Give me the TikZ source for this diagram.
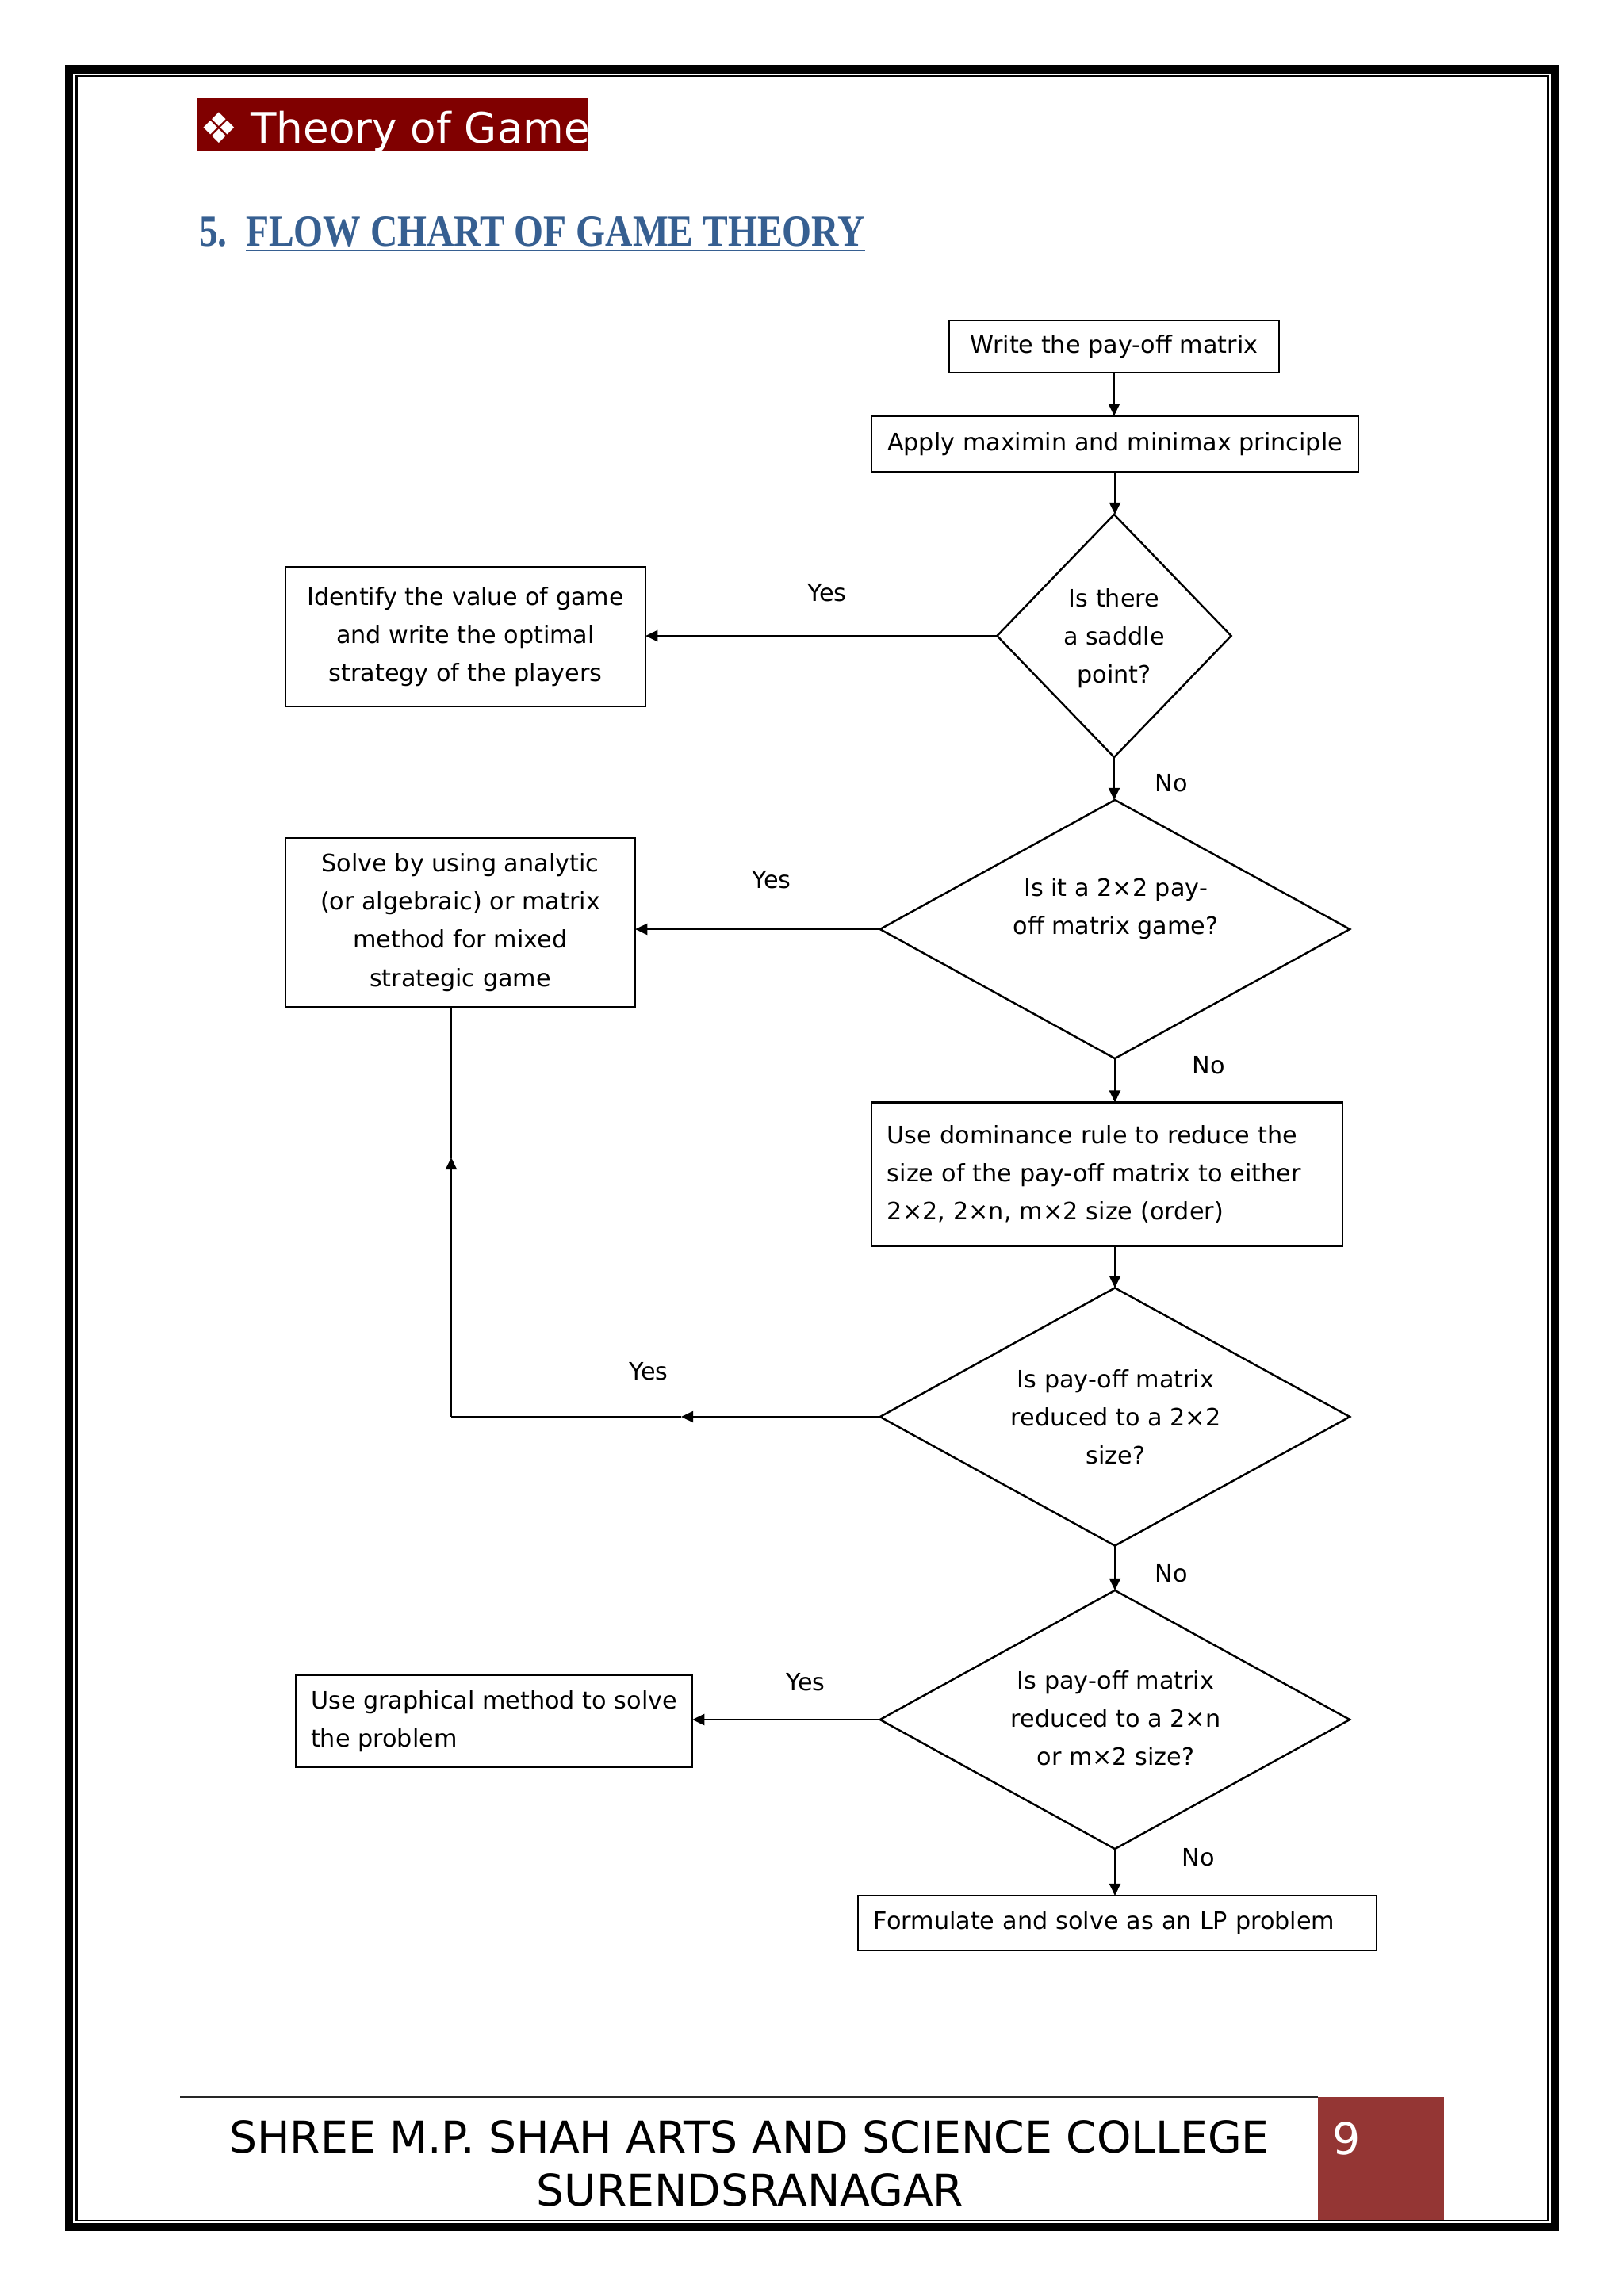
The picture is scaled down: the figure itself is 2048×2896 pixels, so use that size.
\documentclass[tikz,border=0pt]{standalone}
\usepackage{fontspec}
\setmainfont{DejaVu Sans}
\newfontfamily\titlefont[FakeStretch=0.85]{Liberation Serif}
\usetikzlibrary{shapes.geometric,arrows.meta}
\definecolor{hdrred}{HTML}{800000}
\definecolor{titleblue}{HTML}{365F91}
\definecolor{footred}{HTML}{943634}
\newcommand{\flowfont}{\fontsize{8.6pt}{13.7pt}\selectfont}
\newcommand{\footerfont}{\fontsize{15.7pt}{19pt}\selectfont}
\newcommand{\hdrfont}{\fontsize{15.1pt}{18pt}\selectfont}
\newcommand{\ttlfont}{\titlefont\fontsize{15.9pt}{19pt}\selectfont\bfseries}
\begin{document}
\begin{tikzpicture}[x=0.01cm,y=-0.01cm,
  every node/.style={inner sep=0pt, outer sep=0pt},
  box/.style={draw, line width=0.7pt, font=\flowfont, align=center},
  lbox/.style={draw, line width=0.7pt, font=\flowfont, align=left, inner xsep=0.2cm},
  dia/.style={draw, diamond, line width=0.7pt, inner sep=0pt},
  qtext/.style={font=\flowfont, align=center},
  lbl/.style={font=\flowfont},
  arr/.style={-{Triangle[length=4.3pt,width=4pt]}, line width=0.6pt},
  plain/.style={line width=0.6pt}
]
\useasboundingbox (0,0) rectangle (2048,2896);
\fill[white] (0,0) rectangle (2048,2896);

% page frame
\draw[line width=2.85pt] (87,87.5) rectangle (1961,2808.5);
\draw[line width=0.6pt] (96.5,96) rectangle (1952,2801);

% header
\node[fill=hdrred, minimum width=4.92cm, minimum height=0.67cm, anchor=north west] (hdrbox) at (249,124) {};
\node[anchor=base west, text=white, font=\hdrfont] (hdrtext) at (252,180) {❖ Theory of Game};

% title
\node[anchor=base west, text=titleblue, font=\ttlfont] (tnum) at (251,310) {5.};
\node[anchor=base west, text=titleblue, font=\ttlfont] (ttl) at (310,310) {\underline{FLOW CHART OF GAME THEORY}};

% flowchart nodes
\node[box, minimum width=4.16cm, minimum height=0.66cm] (b1) at (1405,437) {Write the pay-off matrix};
\node[box, minimum width=6.14cm, minimum height=0.71cm] (b2) at (1406,560) {Apply maximin and minimax principle};
\node[dia, minimum width=2.95cm, minimum height=3.06cm] (d1) at (1405,802) {};
\node[qtext] (d1t) at (1405,805) {Is there\\a saddle\\point?};
\node[box, minimum width=4.54cm, minimum height=1.76cm] (b3) at (587,803) {Identify the value of game\\and write the optimal\\strategy of the players};

\node[dia, minimum width=5.92cm, minimum height=3.26cm] (d2) at (1406,1172) {};
\node[qtext] (d2t) at (1407,1146) {Is it a 2×2 pay-\\off matrix game?};
\node[box, minimum width=4.41cm, minimum height=2.13cm] (b4) at (580.5,1163.5) {Solve by using analytic\\(or algebraic) or matrix\\method for mixed\\strategic game};

\node[lbox, text width=5.54cm, minimum height=1.81cm] (b5) at (1396,1481) {Use dominance rule to reduce the\\size of the pay-off matrix to either\\2×2, 2×n, m×2 size (order)};

\node[dia, minimum width=5.92cm, minimum height=3.25cm] (d3) at (1406,1787) {};
\node[qtext] (d3t) at (1407,1787) {Is pay-off matrix\\reduced to a 2×2\\size?};

\node[dia, minimum width=5.92cm, minimum height=3.26cm] (d4) at (1406,2169) {};
\node[qtext] (d4t) at (1407,2167) {Is pay-off matrix\\reduced to a 2×n\\or m×2 size?};
\node[draw, line width=0.7pt, font=\flowfont, align=left, minimum width=5cm, minimum height=1.16cm] (b6) at (623,2171) {Use graphical method to solve\\the problem};

\node[lbox, text width=6.14cm, minimum height=0.69cm] (b7) at (1409,2425.5) {Formulate and solve as an LP problem};

% labels
\node[lbl] (y1) at (1043,748) {Yes};
\node[lbl] (n1) at (1477,988) {No};
\node[lbl] (y2) at (973,1110) {Yes};
\node[lbl] (n2) at (1524,1344) {No};
\node[lbl] (y3) at (818,1730) {Yes};
\node[lbl] (n3) at (1477,1985) {No};
\node[lbl] (y4) at (1016,2122) {Yes};
\node[lbl] (n4) at (1511,2343) {No};

% connectors
\draw[arr] (b1.south) -- (b1.south |- b2.north);
\draw[arr] (b2.south) -- (b2.south |- d1.north);
\draw[arr] (d1.west) -- (d1.west -| b3.east);
\draw[arr] (d1.south) -- (d1.south |- d2.north);
\draw[arr] (d2.west) -- (d2.west -| b4.east);
\draw[arr] (d2.south) -- (d2.south |- b5.north);
\draw[arr] (b5.south -| d3.north) -- (d3.north);
\coordinate (fbm) at (859,1787);
\coordinate (fbc) at (569,1787);
\coordinate (fbu) at (569,1460);
\draw[arr] (d3.west) -- (fbm);
\draw[plain] (fbm) -- (fbc);
\draw[arr] (fbc) -- (fbu);
\draw[plain] (fbu) -- (fbu |- b4.south);
\draw[arr] (d3.south) -- (d3.south |- d4.north);
\draw[arr] (d4.west) -- (d4.west -| b6.east);
\draw[arr] (d4.south) -- (d4.south |- b7.north);

% footer
\coordinate (fl) at (227,2645);
\coordinate (fr) at (1662,2645);
\draw[line width=0.6pt, black!85] (fl) -- (fr);
\node[fill=footred, minimum width=1.59cm, minimum height=1.55cm, anchor=north west] (pgbox) at (1662,2645) {};
\node[anchor=base west, text=white, font=\footerfont] (pgnum) at (1680,2717) {9};
\node[anchor=base, font=\footerfont] (foot1) at (945,2715) {SHREE M.P. SHAH ARTS AND SCIENCE COLLEGE};
\node[anchor=base, font=\footerfont] (foot2) at (946,2782) {SURENDSRANAGAR};
\end{tikzpicture}
\end{document}
